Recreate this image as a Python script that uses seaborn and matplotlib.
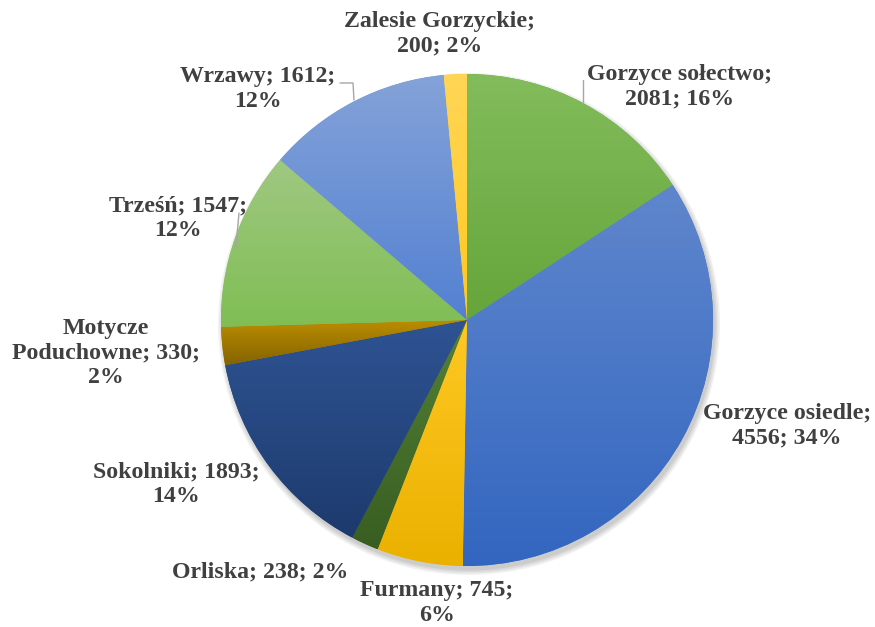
import colorsys
import numpy as np
import seaborn as sns
import matplotlib
matplotlib.use("Agg")
import matplotlib.pyplot as plt
from matplotlib.colors import LinearSegmentedColormap, to_rgb
from matplotlib.patches import Circle

# data (clockwise from 12 o'clock)
names = ["Gorzyce sołectwo", "Gorzyce osiedle", "Furmany", "Orliska", "Sokolniki",
         "Motycze Poduchowne", "Trześń", "Wrzawy", "Zalesie Gorzyckie"]
values = [2081, 4556, 745, 238, 1893, 330, 1547, 1612, 200]
percents = [16, 34, 6, 2, 14, 2, 12, 12, 2]
colors = ["#70AD47", "#4472C4", "#FFC000", "#43682B", "#264478",
          "#997300", "#8CBD69", "#698ED0", "#FFCD33"]

# label line layout and position (pixels, origin top-left)
templates = ["{n};\n{v}; {p}%", "{n};\n{v}; {p}%", "{n}; {v};\n{p}%", "{n}; {v}; {p}%",
             "{n}; {v};\n{p}%", "Motycze\nPoduchowne; {v};\n{p}%", "{n}; {v};\n{p}%",
             "{n}; {v};\n{p}%", "{n};\n{v}; {p}%"]
label_xy = [(680, 87), (787, 426), (437, 603), (260, 572), (176, 484),
            (106, 353), (178, 218), (258, 89), (440, 34)]

W, H = 875, 627
cx, cy, R = 467, 320, 246

sns.set_theme(style="white")
plt.rcParams["font.family"] = ["Liberation Serif", "DejaVu Serif"]


def shade(c, dl, ds):
    h, l, s = colorsys.rgb_to_hls(*to_rgb(c))
    return colorsys.hls_to_rgb(h, min(1, max(0, l + dl)), min(1, max(0, s + ds)))


fig = plt.figure(figsize=(W / 100, H / 100), dpi=100)
ax = fig.add_axes([0, 0, 1, 1])

# soft shadow
for i, a in enumerate([0.05, 0.05, 0.05, 0.06]):
    ax.add_patch(Circle((cx + 2, cy + 4), R + 5 - i * 1.5, color="black", alpha=a, lw=0, zorder=1))

# y axis is flipped below, so counterclock=True reads clockwise on screen
wedges, _ = ax.pie(values, colors=colors, startangle=-90, counterclock=True,
                   center=(cx, cy), radius=R, frame=True,
                   wedgeprops=dict(linewidth=0))

# vertical gradient per wedge over its own bounding box
grad = np.linspace(0, 1, 256).reshape(-1, 1)
for w, c in zip(wedges, colors):
    t = np.radians(np.linspace(w.theta1, w.theta2, 200))
    xs = np.concatenate([[cx], cx + R * np.cos(t)])
    ys = np.concatenate([[cy], cy + R * np.sin(t)])
    cmap = LinearSegmentedColormap.from_list("g", [shade(c, 0.07, 0.0), shade(c, -0.04, 0.06)])
    im = ax.imshow(grad, cmap=cmap, extent=(xs.min(), xs.max(), ys.max(), ys.min()),
                   aspect="auto", zorder=3, interpolation="bilinear")
    im.set_clip_path(w)
    w.set_zorder(2)

ax.set_xlim(0, W)
ax.set_ylim(H, 0)
ax.set_aspect("equal")
ax.axis("off")

for n, v, p, t, (x, y) in zip(names, values, percents, templates, label_xy):
    ax.text(x, y, t.format(n=n, v=v, p=p), ha="center", va="center",
            fontsize=17.2, fontweight="bold", color="#404040", linespacing=1.22, zorder=5)

# leader lines
lc = "#a6a6a6"
ax.plot([583, 583], [80, 103], color=lc, lw=1, zorder=4)
ax.plot([340, 353, 354], [83, 83, 100], color=lc, lw=1, zorder=4)
ax.plot([239, 236], [213, 246], color=lc, lw=1, zorder=4)

fig.savefig("out.png", dpi=100, facecolor="white")
